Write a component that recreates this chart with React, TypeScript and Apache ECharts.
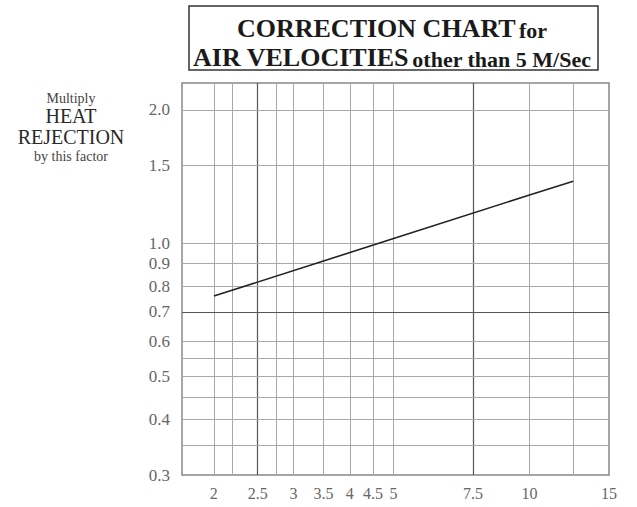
import React, { useEffect, useRef } from "react";
import * as echarts from "echarts";

// Tick labels
const xTicks = [2, 2.5, 3, 3.5, 4, 4.5, 5, 7.5, 10, 15];
const yTicks = [0.3, 0.4, 0.5, 0.6, 0.7, 0.8, 0.9, 1.0, 1.5, 2.0];

// Series: air velocity (m/s) vs heat rejection factor
const velocity = [2, 5, 10, 12.5];
const factor = [0.76, 1.025, 1.285, 1.38];

// Grid lines of the printed chart paper
const vGridLight = [2, 2.2, 2.75, 3, 3.5, 4, 4.5, 5, 10, 12.5];
const vGridDark = [2.5, 7.5];
const hGridLight = [2.0, 1.5, 1.0, 0.9, 0.8, 0.6, 0.55, 0.5, 0.45, 0.4, 0.35];
const hGridDark = [0.7];

const SERIF = "'Liberation Serif', 'DejaVu Serif', serif";

export default function App() {
  const ref = useRef<HTMLDivElement>(null);

  useEffect(() => {
    if (!ref.current) return;
    const chart = echarts.init(ref.current, null, { renderer: "svg" });

    const light = { color: "#a8a8a8", width: 1, type: "solid" as const };
    const dark = { color: "#555", width: 1.2, type: "solid" as const };

    const gridLines = [
      ...vGridLight.map((v) => ({ xAxis: v, lineStyle: light })),
      ...vGridDark.map((v) => ({ xAxis: v, lineStyle: dark })),
      ...hGridLight.map((v) => ({ yAxis: v, lineStyle: light })),
      ...hGridDark.map((v) => ({ yAxis: v, lineStyle: dark })),
    ];

    const lineData = velocity.map((v, i) => [v, factor[i]]);

    chart.setOption({
      animation: false,
      backgroundColor: "#fff",
      grid: {
        left: 182,
        top: 83,
        width: 427,
        height: 392,
        show: true,
        borderColor: "#888",
        borderWidth: 1.5,
        backgroundColor: "transparent",
      },
      xAxis: {
        type: "log",
        logBase: 10,
        min: 1.7,
        max: 15,
        axisLine: { show: false },
        axisTick: { show: false },
        splitLine: { show: false },
        minorSplitLine: { show: false },
        axisLabel: {
          customValues: xTicks,
          formatter: (v: number) => String(+Number(v).toPrecision(3)),
          color: "#666",
          fontSize: 16,
          fontFamily: SERIF,
          margin: 10,
          hideOverlap: false,
        },
      },
      yAxis: {
        type: "log",
        logBase: 10,
        min: 0.3,
        max: 2.3,
        axisLine: { show: false },
        axisTick: { show: false },
        splitLine: { show: false },
        axisLabel: {
          customValues: yTicks,
          formatter: (v: number) => Number(v).toFixed(1),
          color: "#666",
          fontSize: 17,
          fontFamily: SERIF,
          margin: 12,
          hideOverlap: false,
        },
      },
      graphic: [
        {
          type: "rect",
          shape: { x: 189, y: 6, width: 409, height: 64 },
          style: { fill: "none", stroke: "#333", lineWidth: 1.5 },
        },
        {
          type: "text",
          style: {
            x: 392,
            y: 12,
            align: "center",
            verticalAlign: "top",
            text:
              "{a|CORRECTION CHART} {b|for}\n{a|AIR VELOCITIES} {b|other than 5 M/Sec}",
            rich: {
              a: {
                fontFamily: SERIF,
                fontWeight: "bold",
                fontSize: 26,
                lineHeight: 29,
                fill: "#1a1a1a",
                verticalAlign: "bottom",
              },
              b: {
                fontFamily: SERIF,
                fontWeight: "bold",
                fontSize: 22,
                lineHeight: 29,
                fill: "#1a1a1a",
                verticalAlign: "bottom",
              },
            },
          },
        },
        {
          type: "text",
          style: {
            x: 71, y: 98, align: "center", verticalAlign: "middle",
            text: "Multiply", fontFamily: SERIF, fontSize: 14, fill: "#444",
          },
        },
        {
          type: "text",
          style: {
            x: 71, y: 116, align: "center", verticalAlign: "middle",
            text: "HEAT", fontFamily: SERIF, fontSize: 20, fill: "#2a2a2a",
          },
        },
        {
          type: "text",
          style: {
            x: 71, y: 137, align: "center", verticalAlign: "middle",
            text: "REJECTION", fontFamily: SERIF, fontSize: 20, fill: "#2a2a2a",
          },
        },
        {
          type: "text",
          style: {
            x: 71, y: 156, align: "center", verticalAlign: "middle",
            text: "by this factor", fontFamily: SERIF, fontSize: 14, fill: "#444",
          },
        },
      ],
      series: [
        {
          type: "line",
          z: 1,
          data: lineData,
          showSymbol: false,
          lineStyle: { opacity: 0 },
          silent: true,
          markLine: {
            silent: true,
            symbol: "none",
            label: { show: false },
            data: gridLines,
          },
        },
        {
          type: "line",
          z: 5,
          data: lineData,
          showSymbol: false,
          lineStyle: { color: "#222", width: 1.6 },
          silent: true,
        },
      ],
    });

    return () => chart.dispose();
  }, []);

  return (
    <div
      ref={ref}
      style={{ position: "absolute", left: 0, top: 0, width: 637, height: 507 }}
    />
  );
}
